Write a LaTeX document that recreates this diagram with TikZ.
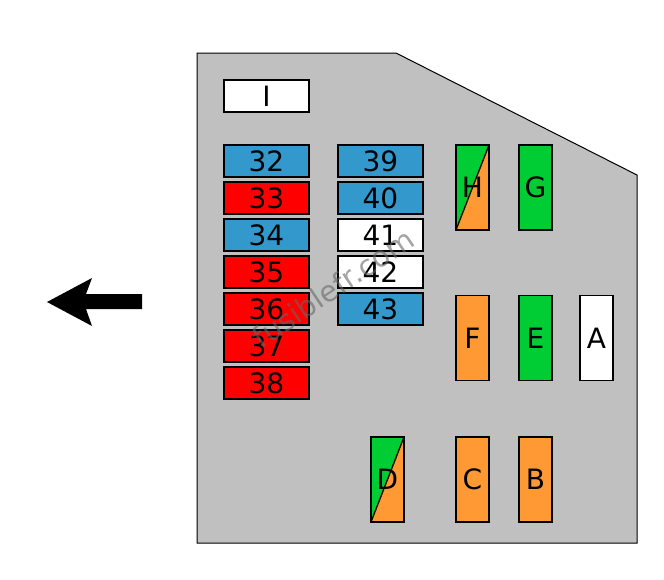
\documentclass[tikz,border=0pt]{standalone}
\usepackage{fontspec}
\setmainfont{DejaVu Sans}
\definecolor{fblue}{HTML}{3399CC}
\definecolor{fred}{HTML}{FF0000}
\definecolor{fgreen}{HTML}{00CC33}
\definecolor{forange}{HTML}{FF9933}
\definecolor{fgray}{HTML}{C0C0C0}
\begin{document}
\begin{tikzpicture}[x=1pt,y=-1pt,
  fbox/.style={draw=black, line width=1.3pt, inner sep=0pt, font=\fontsize{28}{28}\selectfont},
  wide/.style={fbox, minimum width=85pt, minimum height=32pt},
  tall/.style={fbox, minimum width=33pt, minimum height=85pt},
  split/.style={tall, fill=forange, path picture={
     \fill[fgreen] (path picture bounding box.south west) -- (path picture bounding box.north west) -- (path picture bounding box.north east) -- cycle;
     \draw[line width=1.3pt] (path picture bounding box.south west) -- (path picture bounding box.north east);}}
]
\useasboundingbox (0,0) rectangle (664,579);
% housing
\draw[fill=fgray, line width=1pt] (197,53) -- (396,53) -- (637,175) -- (637,543) -- (197,543) -- cycle;
% arrow
\fill[black] (47,302) -- (92,278) -- (86,294) -- (142,294) -- (142,309) -- (86,309) -- (92,326) -- cycle;
% boxes
\node[wide, fill=white] (nI) at (266.5,96) {I};
\foreach \n/\c [count=\i from 0] in {32/fblue,33/fred,34/fblue,35/fred,36/fred,37/fred,38/fred}{
  \node[wide, fill=\c] (n\n) at (266.5,161+37*\i) {\n};
}
\foreach \n/\c [count=\i from 0] in {39/fblue,40/fblue,41/white,42/white,43/fblue}{
  \node[wide, fill=\c] (n\n) at (380.5,161+37*\i) {\n};
}
\node[split] (nH) at (472.5,187.5) {H};
\node[tall, fill=fgreen] (nG) at (535.5,187.5) {G};
\node[tall, fill=forange] (nF) at (472.5,338) {F};
\node[tall, fill=fgreen] (nE) at (535.5,338) {E};
\node[tall, fill=white] (nA) at (596.5,338) {A};
\node[split] (nD) at (387.5,479.5) {D};
\node[tall, fill=forange] (nC) at (472.5,479.5) {C};
\node[tall, fill=forange] (nB) at (535.5,479.5) {B};
% watermark
\node[rotate=34, text=black!60, opacity=0.6, font=\fontsize{29}{29}\selectfont] (wm) at (333,288) {fusiblefr.com};
\end{tikzpicture}
\end{document}
